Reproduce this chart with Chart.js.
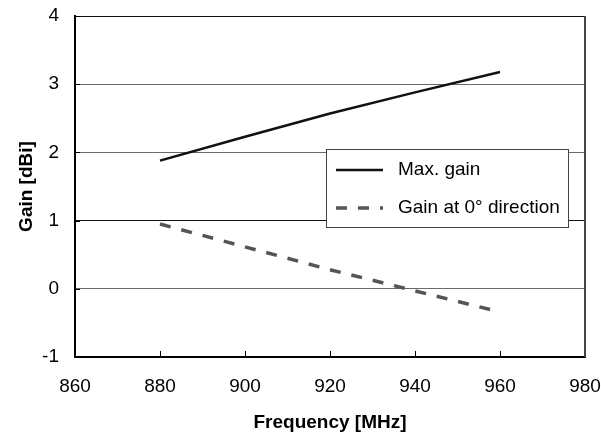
<!DOCTYPE html>
<html>
<head>
<meta charset="utf-8">
<script src="https://cdn.jsdelivr.net/npm/chart.js@4.4.1/dist/chart.umd.min.js"></script>
<style>
  html, body { margin: 0; padding: 0; background: #fff; }
  #wrap { width: 601px; height: 434px; }
</style>
</head>
<body>
<div id="wrap"><canvas id="chart" width="601" height="434"></canvas></div>
<script>
// Data
const freqs    = [880, 900, 920, 940, 960];
const maxGain  = [1.88, 2.23, 2.57, 2.88, 3.18];
const gainZero = [0.95, 0.615, 0.28, -0.03, -0.34];

const xTicks = [860, 880, 900, 920, 940, 960, 980];
const yTicks = [-1, 0, 1, 2, 3, 4];

const FONT = "'Liberation Sans', Arial, sans-serif";

// small tick marks pointing into the plot, plus right border
const innerTicks = {
  id: 'innerTicks',
  afterDatasetsDraw(chart) {
    const { ctx, chartArea: a, scales: { x, y } } = chart;
    ctx.save();
    ctx.strokeStyle = '#000';
    ctx.lineWidth = 1;
    ctx.beginPath();
    xTicks.forEach(v => {
      if (v === xTicks[0] || v === xTicks[xTicks.length - 1]) return;
      const px = Math.round(x.getPixelForValue(v)) + 0.5;
      ctx.moveTo(px, a.bottom);
      ctx.lineTo(px, a.bottom - 6);
    });
    yTicks.forEach(v => {
      if (v === yTicks[0]) return;
      const py = Math.round(y.getPixelForValue(v)) + 0.5;
      ctx.moveTo(a.left, py);
      ctx.lineTo(a.left + 5, py);
    });
    ctx.stroke();
    // right border
    ctx.strokeStyle = '#444';
    ctx.lineWidth = 2;
    ctx.beginPath();
    ctx.moveTo(a.right, a.top);
    ctx.lineTo(a.right, a.bottom);
    ctx.stroke();
    ctx.restore();
  }
};

// legend box sitting inside the plot
const boxLegend = {
  id: 'boxLegend',
  afterDraw(chart) {
    const { ctx } = chart;
    const bx = 326, by = 149, bw = 242, bh = 78;
    ctx.save();
    ctx.fillStyle = '#fff';
    ctx.fillRect(bx, by, bw, bh);
    ctx.strokeStyle = '#444';
    ctx.lineWidth = 1;
    ctx.strokeRect(bx + 0.5, by + 0.5, bw, bh);

    chart.data.datasets.forEach((ds, i) => {
      const ly = by + 21 + i * 38;
      ctx.strokeStyle = ds.borderColor;
      ctx.lineWidth = ds.borderWidth;
      ctx.setLineDash(ds.borderDash || []);
      ctx.beginPath();
      ctx.moveTo(bx + 10, ly);
      ctx.lineTo(bx + 57, ly);
      ctx.stroke();
      ctx.setLineDash([]);
      ctx.fillStyle = '#000';
      ctx.font = `19px ${FONT}`;
      ctx.textBaseline = 'middle';
      ctx.fillText(ds.label, bx + 72, ly);
    });
    ctx.restore();
  }
};

new Chart(document.getElementById('chart'), {
  type: 'line',
  data: {
    labels: freqs,
    datasets: [
      {
        label: 'Max. gain',
        data: freqs.map((f, i) => ({ x: f, y: maxGain[i] })),
        borderColor: '#111',
        borderWidth: 2.5,
        pointRadius: 0,
        tension: 0
      },
      {
        label: 'Gain at 0° direction',
        data: freqs.map((f, i) => ({ x: f, y: gainZero[i] })),
        borderColor: '#555',
        borderWidth: 3.5,
        borderDash: [11, 11],
        pointRadius: 0,
        tension: 0
      }
    ]
  },
  options: {
    responsive: false,
    animation: false,
    layout: { padding: { top: 16, right: 16, left: 0, bottom: 0 } },
    plugins: {
      legend: { display: false },
      tooltip: { enabled: false }
    },
    scales: {
      x: {
        type: 'linear',
        min: 860,
        max: 980,
        afterBuildTicks(scale) { scale.ticks = xTicks.map(v => ({ value: v })); },
        afterFit(scale) {
          scale.height = 77;
          scale.paddingLeft = 0;
          scale.paddingRight = 0;
        },
        grid: { drawOnChartArea: false, drawTicks: false },
        border: { color: '#000', width: 2 },
        ticks: { color: '#000', padding: 18, font: { family: FONT, size: 19 }, maxRotation: 0 },
        title: {
          display: true,
          text: 'Frequency [MHz]',
          color: '#000',
          font: { family: FONT, size: 19, weight: 'bold' },
          padding: { top: 3, bottom: 0 }
        }
      },
      y: {
        min: -1,
        max: 4,
        afterBuildTicks(scale) { scale.ticks = yTicks.map(v => ({ value: v })); },
        afterFit(scale) {
          scale.width = 75;
          scale.paddingTop = 0;
          scale.paddingBottom = 0;
        },
        grid: {
          drawTicks: false,
          lineWidth: 1,
          color: c => (c.tick && (c.tick.value === 1 || c.tick.value === 4)) ? '#111' : '#6a6a6a'
        },
        border: { color: '#000', width: 2 },
        ticks: { color: '#000', padding: 16, font: { family: FONT, size: 19 } },
        title: {
          display: true,
          text: 'Gain [dBi]',
          color: '#000',
          font: { family: FONT, size: 19, weight: 'bold' },
          padding: { top: 15, bottom: 0 }
        }
      }
    }
  },
  plugins: [innerTicks, boxLegend]
});
</script>
</body>
</html>
